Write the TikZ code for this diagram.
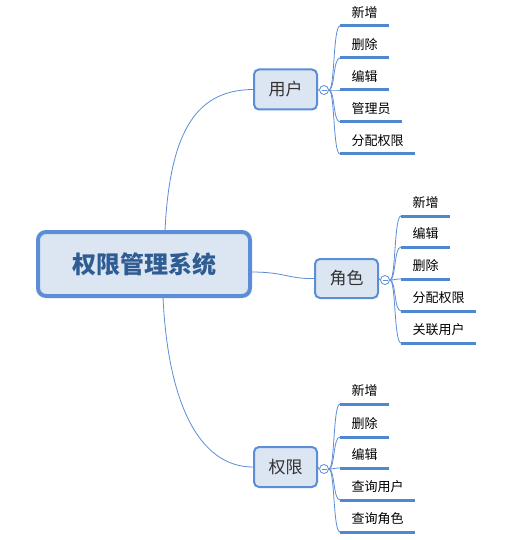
\documentclass[tikz,border=0pt]{standalone}
\usepackage{fontspec}
\setmainfont{Noto Sans CJK SC}
\usetikzlibrary{backgrounds}
\definecolor{lineblue}{HTML}{5B8ED6}
\definecolor{boxfill}{HTML}{DCE6F2}
\definecolor{maintext}{HTML}{2F5C92}
\definecolor{ulblue}{HTML}{5088CF}
\begin{document}
\begin{tikzpicture}[x=1pt,y=-1pt,
  mainbox/.style={draw=lineblue, line width=4pt, fill=boxfill, rounded corners=8pt,
    minimum width=212pt, minimum height=64pt, inner sep=0pt,
    font=\fontsize{24}{27}\selectfont\bfseries, text=maintext},
  subbox/.style={draw=lineblue, line width=2pt, fill=boxfill, rounded corners=5pt,
    minimum width=63pt, minimum height=40pt, inner sep=0pt,
    font=\fontsize{17}{20}\selectfont, text=black!80},
  leaf/.style={anchor=south west, inner xsep=11.5pt, inner ysep=6pt,
    text height=11pt, text depth=2pt, font=\fontsize{13}{15}\selectfont},
  uline/.style={draw=ulblue, line width=3pt},
  conn/.style={draw=lineblue, line width=0.8pt},
  toggle/.style={circle, draw=lineblue, line width=0.8pt, fill=white,
    minimum size=9pt, inner sep=0pt,
    path picture={\draw[lineblue, line width=0.8pt]
      ([xshift=-2.5pt]path picture bounding box.center) -- ([xshift=2.5pt]path picture bounding box.center);}}
]
\useasboundingbox (0,0) rectangle (508,540);

\node[mainbox] (main) at (144,264) {权限管理系统};
\node[subbox] (user) at (285.5,89.5) {用户};
\node[subbox, minimum height=39pt] (role) at (346.5,278.5) {角色};
\node[subbox] (perm) at (285.5,467) {权限};

\coordinate (mtop) at (165,231);
\coordinate (mbot) at (163,297);
\coordinate (mright) at (251,272);

% toggles
\node[toggle] (tu) at (324,90) {};
\node[toggle] (tr) at (385,280) {};
\node[toggle] (tp) at (324,469) {};

% user leaves
\node[leaf] (u1) at (340,26) {新增};
\node[leaf] (u2) at (340,58) {删除};
\node[leaf] (u3) at (340,90) {编辑};
\node[leaf] (u4) at (340,122) {管理员};
\node[leaf] (u5) at (340,154) {分配权限};

% role leaves
\node[leaf] (r1) at (401,216) {新增};
\node[leaf] (r2) at (401,247) {编辑};
\node[leaf] (r3) at (401,279) {删除};
\node[leaf] (r4) at (401,311) {分配权限};
\node[leaf] (r5) at (401,343) {关联用户};

% permission leaves
\node[leaf] (p1) at (340,404) {新增};
\node[leaf] (p2) at (340,437) {删除};
\node[leaf] (p3) at (340,468) {编辑};
\node[leaf] (p4) at (340,500) {查询用户};
\node[leaf] (p5) at (340,532) {查询角色};

\begin{scope}[on background layer]
\fill[white] (0,0) rectangle (508,540);
\draw[conn] (mtop) .. controls (170,125) and (200,90) .. (user.west);
\draw[conn] (mbot) .. controls (168,405) and (200,467) .. (perm.west);
\draw[conn] (mright) .. controls (285,272) and (288,279) .. (role.west);
\draw[conn] (user.east) -- (tu.west);
\draw[conn] (role.east) -- (tr.west);
\draw[conn] (perm.east) -- (tp.west);
\end{scope}

\foreach \t/\l in {tu/u1,tu/u2,tu/u3,tu/u4,tu/u5,tr/r1,tr/r2,tr/r3,tr/r4,tr/r5,tp/p1,tp/p2,tp/p3,tp/p4,tp/p5}{
  \draw[conn] (\t.east) .. controls +(6,0) and +(-7,0) .. (\l.south west);
  \draw[uline] (\l.south west) -- (\l.south east);
}
\end{tikzpicture}
\end{document}
